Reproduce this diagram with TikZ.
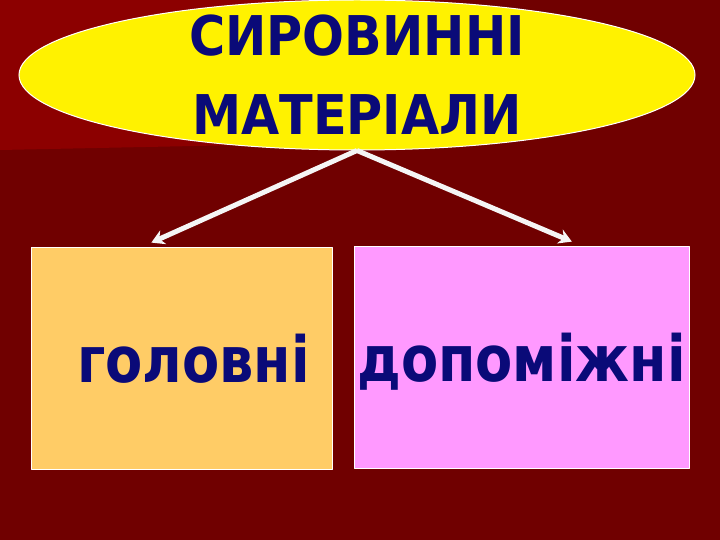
\documentclass[tikz,border=0pt]{standalone}
\usepackage{fontspec}
\newfontfamily\slidefont{DejaVu Sans}[FakeStretch=0.9]
\newfontfamily\boxfont{DejaVu Sans}[FakeStretch=0.85]
\usetikzlibrary{shapes.geometric,arrows.meta,calc}
\definecolor{darkbg}{RGB}{112,0,0}
\definecolor{lightbg}{RGB}{140,0,0}
\definecolor{ink}{RGB}{10,10,120}
\definecolor{tan}{RGB}{255,204,102}
\definecolor{pink}{RGB}{255,153,255}
\tikzset{
  box/.style={draw=white,line width=.8bp,minimum height=222bp,
    inner sep=0pt,text height=48bp,text depth=0pt,text=ink,
    font=\boxfont\bfseries\fontsize{64}{64}\selectfont},
  branch/.style={draw=gray!8,line width=5bp,-{Stealth[length=13bp,width=15bp]}}
}
\begin{document}
\begin{tikzpicture}[x=1bp,y=-1bp,line join=round]
  \useasboundingbox (0,0) rectangle (720,540);
  \fill[darkbg] (0,0) rectangle (720,540);
  \fill[lightbg] (0,0) -- (430,0) -- (340,143) -- (0,150) -- cycle;
  \node[ellipse,fill=yellow,draw=white,line width=1bp,minimum width=676bp,
    minimum height=150bp,inner sep=0pt] (sirovyna) at (357,75) {};
  \node[align=center,text=ink,inner sep=0pt,
    font=\slidefont\bfseries\fontsize{55}{79}\selectfont]
    (title) at (sirovyna.center) {СИРОВИННІ\\МАТЕРІАЛИ};
  \node[box,fill=tan,text width=257bp,align=right,inner xsep=22bp]
    (holovni) at (181.5,358) {головні};
  \node[box,fill=pink,minimum width=335bp] (dopomizhni) at (521.5,357) {допоміжні};
  \draw[branch] (sirovyna.south) -- ($(holovni.north west)!.4!(holovni.north east)+(0,-4)$);
  \draw[branch] (sirovyna.south) -- ($(dopomizhni.north west)!.65!(dopomizhni.north east)+(0,-4)$);
\end{tikzpicture}
\end{document}
